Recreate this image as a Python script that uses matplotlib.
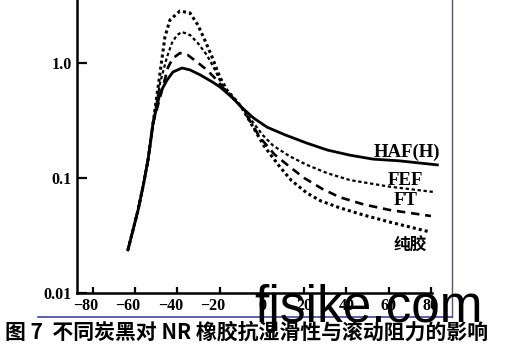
import matplotlib
matplotlib.use('Agg')
import matplotlib.pyplot as plt
import matplotlib.transforms as mtransforms
from matplotlib.lines import Line2D

# shared rising branch (all four compounds overlap here)
rise_x = [-63.4, -61.0, -58.6, -56.3, -53.9, -51.5]
rise_y = [0.0237, 0.0353, 0.0527, 0.0835, 0.143, 0.30]

haf_x = [-48.2, -44.9, -42.1, -37.8, -34.0, -29.3, -23.2, -19.9, -14.0, -9.5,
         -4.0, 2.4, 11.0, 21.3, 31.0, 41.6, 52.5, 65.0, 83.0]
haf_y = [0.55, 0.71, 0.835, 0.905, 0.87, 0.79, 0.68, 0.62, 0.50, 0.41,
         0.333, 0.277, 0.237, 0.201, 0.175, 0.158, 0.146, 0.141, 0.13]

fef_x = [-48.2, -44.9, -42.6, -40.2, -37.8, -34.0, -30.3, -26.0, -22.2, -18.4,
         -13.5, -9.5, -4.5, 0.5, 5.2, 13.0, 21.3, 31.0, 41.6, 60.5, 81.5]
fef_y = [0.67, 1.13, 1.49, 1.75, 1.86, 1.75, 1.49, 1.17, 0.87, 0.62,
         0.50, 0.41, 0.31, 0.235, 0.192, 0.155, 0.13, 0.11, 0.096, 0.084, 0.0755]

ft_x = [-48.2, -44.4, -42.1, -38.8, -35.0, -30.7, -26.0, -21.3, -17.5, -13.5,
        -9.5, -4.5, -0.9, 6.0, 13.2, 20.0, 28.8, 36.9, 48.0, 60.5, 80.0]
ft_y = [0.50, 0.92, 1.10, 1.22, 1.17, 1.02, 0.87, 0.71, 0.58, 0.49,
        0.41, 0.29, 0.225, 0.16, 0.125, 0.10, 0.08, 0.068, 0.059, 0.0527, 0.0467]

gum_x = [-48.2, -45.9, -43.5, -38.8, -34.0, -30.3, -27.0, -23.6, -19.9, -16.5,
         -13.0, -9.5, -4.3, 1.0, 8.5, 14.0, 21.3, 28.0, 36.9, 48.0, 60.5, 79.4]
gum_y = [0.82, 1.68, 2.37, 2.83, 2.72, 2.14, 1.58, 1.13, 0.755, 0.58,
         0.49, 0.41, 0.28, 0.19, 0.125, 0.095, 0.074, 0.063, 0.055, 0.0477, 0.0414, 0.034]

xtick_vals = [-80, -60, -40, -20, 0, 20, 40, 60, 80]
xtick_labels = ['\u221280', '\u221260', '\u221240', '\u221220', '0', '20', '40', '60', '80']
ytick_vals = [0.01, 0.1, 1.0]
ytick_labels = ['0.01', '0.1', '1.0']

fig = plt.figure(figsize=(5.07, 3.58), dpi=100)
W, H = 507, 358
ax = fig.add_axes([77 / W, 1 - 293 / H, (432 - 77) / W, 293 / H])

ax.plot(rise_x + haf_x, rise_y + haf_y, color='black', lw=2.0, clip_on=False)
ax.plot(rise_x + fef_x, rise_y + fef_y, color='black', lw=1.6,
        linestyle=(0, (1.5, 1.2)), clip_on=False)
ax.plot(rise_x + ft_x, rise_y + ft_y, color='black', lw=1.9,
        linestyle=(0, (3.2, 2.2)), clip_on=False)
ax.plot(rise_x + gum_x, rise_y + gum_y, color='black', lw=2.2,
        linestyle=(0, (1, 1)), clip_on=False)

ax.set_yscale('log')
ax.set_xlim(-87.5, 80.5)
ax.set_ylim(0.01, 3.53)

for s in ['top', 'right']:
    ax.spines[s].set_visible(False)
for s in ['left', 'bottom']:
    ax.spines[s].set_linewidth(1.8)

ax.set_xticks(xtick_vals, xtick_labels)
ax.set_yticks(ytick_vals, ytick_labels)
ax.yaxis.set_minor_locator(matplotlib.ticker.NullLocator())
ax.tick_params(axis='x', direction='in', length=4.5, width=1.6, pad=3.5)
ax.tick_params(axis='y', direction='in', length=7.5, width=1.6, pad=4)
for lab in ax.get_xticklabels() + ax.get_yticklabels():
    lab.set_fontfamily('Liberation Serif')
    lab.set_fontweight('bold')
    lab.set_fontsize(11.5)

# digits centred on the tick, minus sign hanging to the left
shift = mtransforms.ScaledTranslation(-7 / 100, 0, fig.dpi_scale_trans)
for val, lab in zip(xtick_vals, ax.get_xticklabels()):
    if val < 0:
        lab.set_transform(lab.get_transform() + shift)

lab_font = dict(fontfamily='Liberation Serif', fontweight='bold', fontsize=13.5,
                ha='center', va='center')
ax.text(68.6, 0.168, 'HAF(H)', **lab_font)
ax.text(68.1, 0.096, 'FEF', **lab_font)
ax.text(68.1, 0.064, 'FT', **lab_font)
ax.text(70.0, 0.026, '纯胶', family=['Noto Sans CJK SC', 'DejaVu Sans'],
        fontweight='bold', fontsize=12, ha='center', va='center')

# page frame lines
fig.add_artist(Line2D([38 / W, 452 / W], [1 - 317 / H, 1 - 317 / H],
                      color='#45459a', lw=1.2))
fig.add_artist(Line2D([452 / W, 452 / W], [1 - 317 / H, 1.0],
                      color='#55557a', lw=1.0))

fig.text(254 / W, 1 - 322 / H, 'fjsike.com', fontfamily='Liberation Sans',
         fontsize=37, color='black', va='baseline', ha='left')

fig.text(5 / W, 1 - 332 / H, '图 7  不同炭黑对 NR 橡胶抗湿滑性与滚动阻力的影响',
         family=['Noto Sans CJK SC', 'DejaVu Sans'], fontweight='bold',
         fontsize=15, va='center', ha='left')

fig.savefig('out.png', dpi=100)
